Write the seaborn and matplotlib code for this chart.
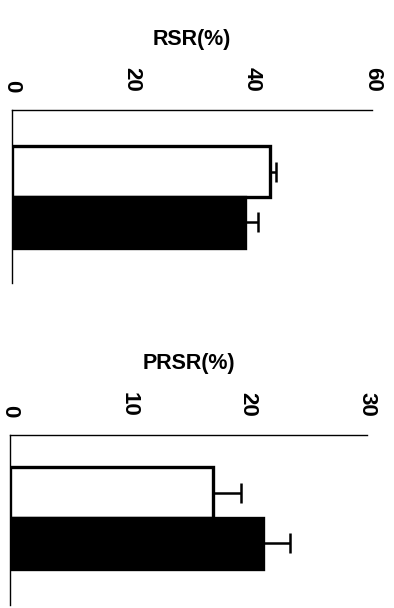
import matplotlib
matplotlib.use("Agg")
import matplotlib.pyplot as plt
import seaborn as sns
import numpy as np
import pandas as pd

sns.set_style("white")
plt.rcParams['font.family'] = ['Liberation Sans', 'DejaVu Sans']
plt.rcParams['text.color'] = 'black'
plt.rcParams['axes.labelcolor'] = 'black'
plt.rcParams['xtick.color'] = 'black'

groups = ["Control", "Treated"]
rsr_values = [43.0, 38.8]
rsr_errors = [1.0, 2.2]
prsr_values = [17.1, 21.3]
prsr_errors = [2.3, 2.2]
bar_colors = ["white", "black"]

rsr_ticks = [0, 20, 40, 60]
prsr_ticks = [0, 10, 20, 30]

fig = plt.figure(figsize=(3.94, 6.08), dpi=100)
ax1 = fig.add_axes([0.0305, 0.5345, 0.914, 0.2845])
ax2 = fig.add_axes([0.0254, 0.0049, 0.906, 0.2796])

def draw(ax, values, errors, ticks, label, ylim, tickpad, labelpad):
    df = pd.DataFrame({"group": groups, "value": values})
    sns.barplot(data=df, y="group", x="value", hue="group", palette=bar_colors,
                order=groups, hue_order=groups, orient="h", width=1.0,
                edgecolor="black", linewidth=2.4, legend=False, ax=ax, errorbar=None)
    ax.errorbar(values, np.arange(len(groups)), xerr=[np.zeros(len(errors)), errors],
                fmt="none", ecolor="black", elinewidth=1.8, capsize=7, capthick=1.8)
    ax.set_xlim(ticks[0], ticks[-1])
    ax.set_ylim(*ylim)
    ax.set_xticks(ticks)
    ax.set_xticklabels([str(t) for t in ticks], rotation=-90, fontsize=16,
                       fontweight="bold", color="black")
    ax.xaxis.tick_top()
    ax.xaxis.set_label_position("top")
    ax.set_xlabel(label, fontsize=15.5, fontweight="bold", labelpad=labelpad,
                  color="black")
    ax.set_ylabel("")
    ax.set_yticks([])
    ax.tick_params(axis="x", length=0, pad=tickpad)
    for s in ["bottom", "right"]:
        ax.spines[s].set_visible(False)
    for s in ["top", "left"]:
        ax.spines[s].set_visible(True)
        ax.spines[s].set_color("black")
        ax.spines[s].set_linewidth(1.0)

draw(ax1, rsr_values, rsr_errors, rsr_ticks, "RSR(%)", (2.19, -1.21), 13, 16)
draw(ax2, prsr_values, prsr_errors, prsr_ticks, "PRSR(%)", (2.21, -1.13), 13, 17)

fig.savefig("out.png", dpi=100, facecolor="white")
